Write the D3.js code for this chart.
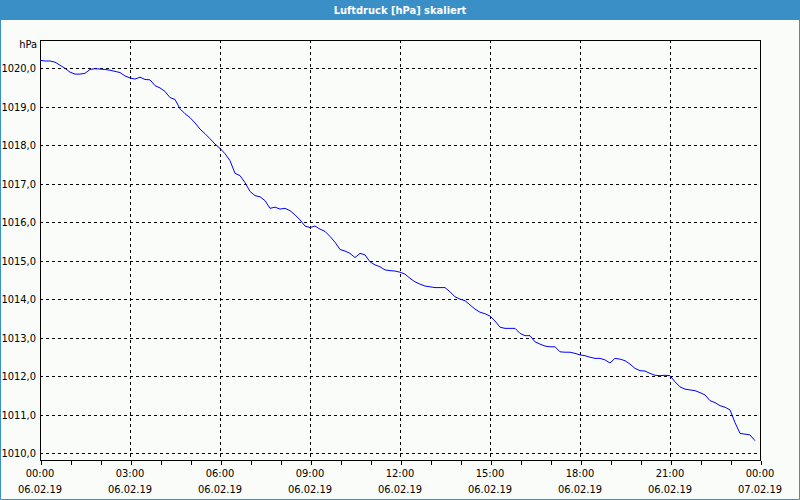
<!DOCTYPE html>
<html>
<head>
<meta charset="utf-8">
<script src="https://cdn.jsdelivr.net/npm/d3@7/dist/d3.min.js"></script>
<style>
  html, body { margin: 0; padding: 0; background: #fafcfa; }
  svg { display: block; }
  text { font-family: "Liberation Sans Narrow", "DejaVu Sans Condensed", "Liberation Sans", sans-serif; }
</style>
</head>
<body>
<script>
// ---- data ----
const chartTitle = "Luftdruck [hPa] skaliert";
const unitLabel = "hPa";
const startTime = "2019-02-06T00:00";
const endTime = "2019-02-07T00:00";
const stepMinutes = 10;
const pressure = [
  1020.21, 1020.19, 1020.19, 1020.16, 1020.08, 1020.00, 1019.90, 1019.85, 1019.85, 1019.87,
  1019.97, 1019.99, 1019.98, 1019.97, 1019.95, 1019.92, 1019.89, 1019.80, 1019.75, 1019.72,
  1019.77, 1019.71, 1019.70, 1019.55, 1019.49, 1019.40, 1019.24, 1019.19, 1018.95, 1018.82,
  1018.72, 1018.58, 1018.42, 1018.30, 1018.17, 1018.03, 1017.92, 1017.78, 1017.60, 1017.27,
  1017.21, 1017.03, 1016.80, 1016.69, 1016.66, 1016.56, 1016.36, 1016.39, 1016.34, 1016.36,
  1016.30, 1016.19, 1016.06, 1015.90, 1015.86, 1015.90, 1015.82, 1015.76, 1015.63, 1015.48,
  1015.29, 1015.25, 1015.19, 1015.08, 1015.19, 1015.15, 1014.97, 1014.89, 1014.84, 1014.76,
  1014.74, 1014.73, 1014.70, 1014.65, 1014.54, 1014.45, 1014.39, 1014.34, 1014.32, 1014.30,
  1014.30, 1014.30, 1014.19, 1014.06, 1014.00, 1013.96, 1013.85, 1013.74, 1013.66, 1013.62,
  1013.56, 1013.43, 1013.27, 1013.24, 1013.24, 1013.24, 1013.11, 1013.05, 1013.05, 1012.89,
  1012.83, 1012.78, 1012.76, 1012.76, 1012.63, 1012.62, 1012.62, 1012.59, 1012.55, 1012.53,
  1012.49, 1012.46, 1012.46, 1012.42, 1012.34, 1012.46, 1012.44, 1012.40, 1012.31, 1012.20,
  1012.14, 1012.13, 1012.07, 1012.02, 1012.01, 1012.02, 1012.01, 1011.85, 1011.72, 1011.66,
  1011.64, 1011.62, 1011.57, 1011.51, 1011.36, 1011.31, 1011.23, 1011.19, 1011.12, 1010.79,
  1010.51, 1010.49, 1010.47, 1010.32
];
const yTicks = [1010, 1011, 1012, 1013, 1014, 1015, 1016, 1017, 1018, 1019, 1020];
const xTickTimes = ["2019-02-06T00:00", "2019-02-06T03:00", "2019-02-06T06:00", "2019-02-06T09:00",
  "2019-02-06T12:00", "2019-02-06T15:00", "2019-02-06T18:00", "2019-02-06T21:00", "2019-02-07T00:00"];
const xTickTimeLabels = ["00:00", "03:00", "06:00", "09:00", "12:00", "15:00", "18:00", "21:00", "00:00"];
const xTickDateLabels = ["06.02.19", "06.02.19", "06.02.19", "06.02.19", "06.02.19", "06.02.19", "06.02.19", "06.02.19", "07.02.19"];
const yDomain = [1009.805, 1020.736];

// ---- layout ----
const W = 800, H = 500;
const plot = { left: 40, right: 760, top: 40, bottom: 460.5 };
const parse = d3.timeParse("%Y-%m-%dT%H:%M");
const t0 = parse(startTime);

const svg = d3.select("body").append("svg").attr("width", W).attr("height", H);

svg.append("rect").attr("x", 0).attr("y", 0).attr("width", W).attr("height", H).attr("fill", "#fafcfa");

// title bar
svg.append("rect").attr("x", 0).attr("y", 0).attr("width", W).attr("height", 20).attr("fill", "#3b8fc7");
svg.append("text").attr("x", W / 2).attr("y", 14).attr("text-anchor", "middle")
  .attr("fill", "#ffffff").attr("font-size", 11).attr("font-weight", "bold").text(chartTitle);
// window frame
svg.append("path").attr("d", `M0.5,20 V${H - 0.5} H${W - 0.5} V20`).attr("fill", "none")
  .attr("stroke", "#3b8fc7").attr("stroke-width", 1);

const x = d3.scaleTime().domain([parse(startTime), parse(endTime)]).range([plot.left, plot.right]);
const y = d3.scaleLinear().domain(yDomain).range([plot.bottom, plot.top]);

const g = svg.append("g").attr("shape-rendering", "crispEdges");

// horizontal grid
g.selectAll(".hg").data(yTicks).join("line")
  .attr("x1", plot.left).attr("x2", plot.right)
  .attr("y1", d => Math.round(y(d)) + 0.5).attr("y2", d => Math.round(y(d)) + 0.5)
  .attr("stroke", "#000").attr("stroke-dasharray", "3,3");

// vertical grid
const xTicks = xTickTimes.map(parse);
g.selectAll(".vg").data(xTicks.slice(1, -1)).join("line")
  .attr("x1", d => Math.round(x(d)) + 0.5).attr("x2", d => Math.round(x(d)) + 0.5)
  .attr("y1", plot.top).attr("y2", plot.bottom)
  .attr("stroke", "#000").attr("stroke-dasharray", "3,3");

// bottom axis with hourly ticks
const xAxis = d3.axisBottom(x).ticks(d3.timeHour.every(1)).tickSize(4).tickFormat("");
const ax = svg.append("g").attr("transform", `translate(0.5,${Math.round(plot.bottom) - 0.5})`)
  .attr("shape-rendering", "crispEdges").call(xAxis);
ax.select(".domain").remove();
ax.selectAll("line").attr("stroke", "#000");

// plot frame
g.append("rect").attr("x", plot.left + 0.5).attr("y", plot.top + 0.5)
  .attr("width", plot.right - plot.left).attr("height", Math.round(plot.bottom) - plot.top - 1)
  .attr("fill", "none").attr("stroke", "#000");

// y labels
svg.selectAll(".yl").data(yTicks).join("text")
  .attr("x", 36).attr("y", d => y(d) + 4).attr("text-anchor", "end")
  .attr("font-size", 11).attr("fill", "#000")
  .text(d => d3.format(".1f")(d).replace(".", ","));
svg.append("text").attr("x", 37).attr("y", 48).attr("text-anchor", "end")
  .attr("font-size", 11).attr("fill", "#000").text(unitLabel);

// x labels
svg.selectAll(".xl1").data(xTicks).join("text")
  .attr("x", (d, i) => x(d)).attr("y", 477).attr("text-anchor", "middle")
  .attr("font-size", 11).attr("fill", "#000").text((d, i) => xTickTimeLabels[i]);
svg.selectAll(".xl2").data(xTicks).join("text")
  .attr("x", (d, i) => x(d)).attr("y", 493).attr("text-anchor", "middle")
  .attr("font-size", 11).attr("fill", "#000").text((d, i) => xTickDateLabels[i]);

// line
const data = pressure.map((v, i) => ({ t: d3.timeMinute.offset(t0, i * stepMinutes), v }));
svg.append("path").datum(data)
  .attr("fill", "none").attr("stroke", "#0000ff").attr("stroke-width", 1)
  .attr("d", d3.line().x(d => x(d.t)).y(d => y(d.v)));
</script>
</body>
</html>
